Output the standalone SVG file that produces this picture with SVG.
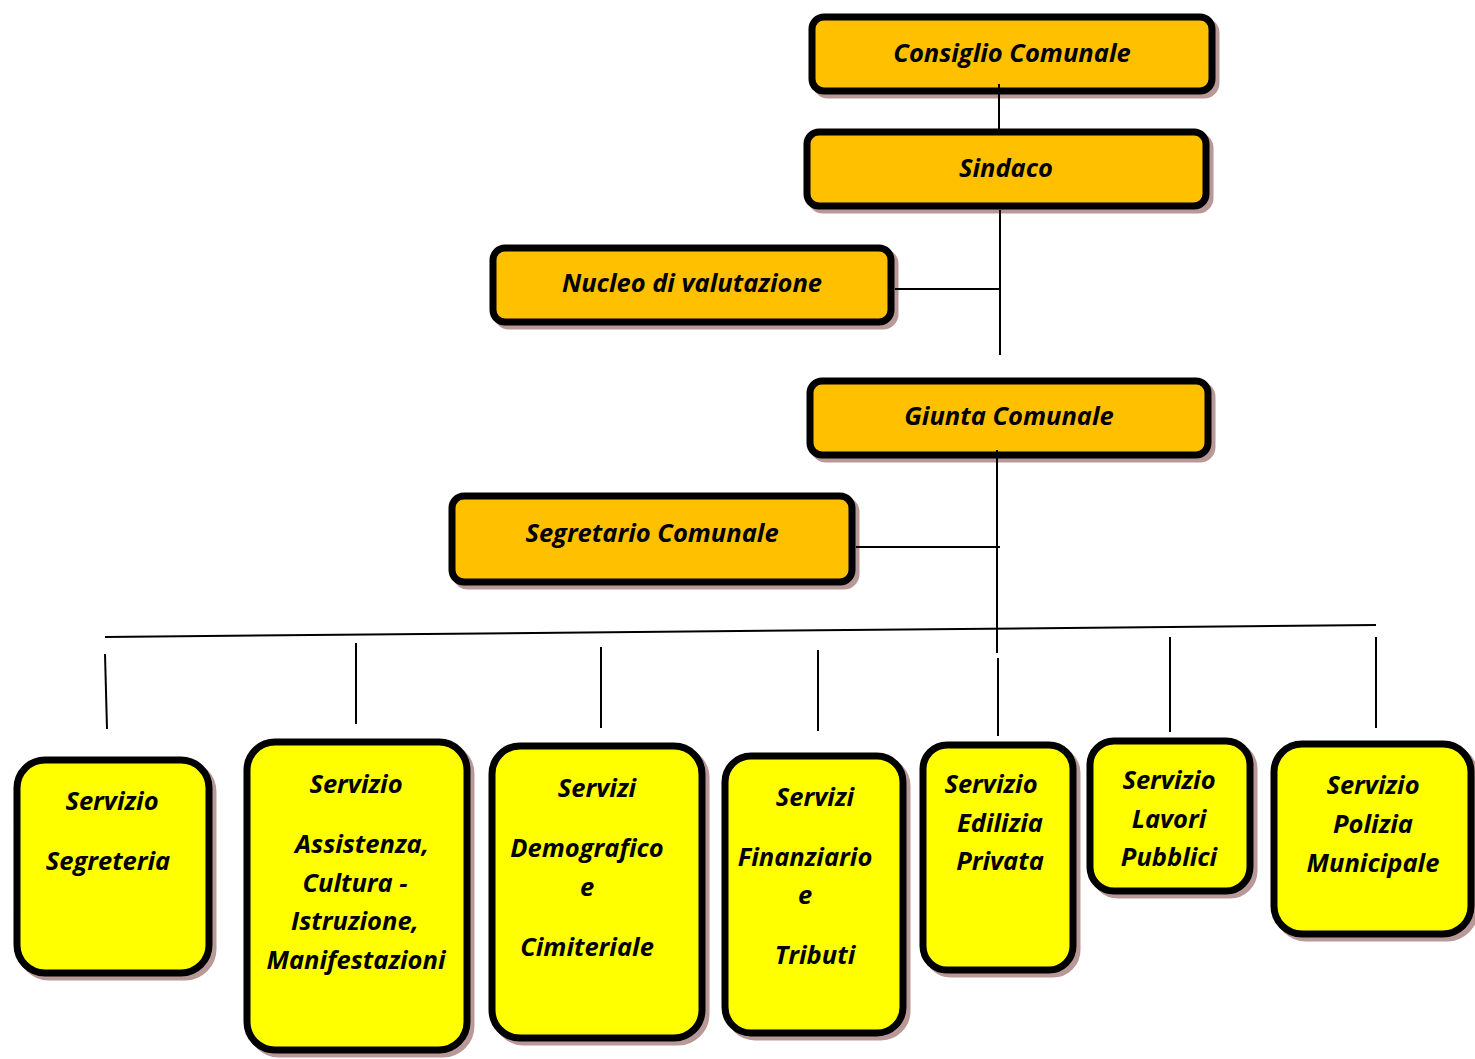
<svg xmlns="http://www.w3.org/2000/svg" width="1475" height="1059" viewBox="0 0 1475 1059">
<style>
.sh{fill:#B99898;stroke:#B99898;stroke-width:7}
.o{fill:#FFC000;stroke:#000;stroke-width:7}
.y{fill:#FFFF00;stroke:#000;stroke-width:7}
text{font-family:"Open Sans","Liberation Sans",sans-serif;font-weight:bold;font-style:italic;font-size:25.5px;fill:#000;text-anchor:middle}
.c line{stroke:#000;stroke-width:2}
</style>
<rect width="1475" height="1059" fill="#fff"/>
<g id="n1"><rect class="sh" x="816" y="21" width="400" height="74" rx="12"/><rect class="o" x="812" y="17" width="400" height="74" rx="12"/><text x="1012" y="62">Consiglio Comunale</text></g>
<g id="n2"><rect class="sh" x="811" y="136" width="399" height="74" rx="12"/><rect class="o" x="807" y="132" width="399" height="74" rx="12"/><text x="1006" y="177">Sindaco</text></g>
<g id="n3"><rect class="sh" x="497" y="252" width="398" height="74" rx="12"/><rect class="o" x="493" y="248" width="398" height="74" rx="12"/><text x="692" y="292">Nucleo di valutazione</text></g>
<g id="n4"><rect class="sh" x="814" y="385" width="398" height="74" rx="12"/><rect class="o" x="810" y="381" width="398" height="74" rx="12"/><text x="1009" y="425">Giunta Comunale</text></g>
<g id="n5"><rect class="sh" x="456" y="500" width="400" height="86" rx="12"/><rect class="o" x="452" y="496" width="400" height="86" rx="12"/><text x="652" y="542">Segretario Comunale</text></g>
<g id="s1"><rect class="sh" x="21" y="764" width="192" height="213" rx="28"/><rect class="y" x="17" y="760" width="192" height="213" rx="28"/><text x="112" y="810">Servizio</text><text x="108" y="870">Segreteria</text></g>
<g id="s2"><rect class="sh" x="251" y="746" width="220" height="308" rx="28"/><rect class="y" x="247" y="742" width="220" height="308" rx="28"/><text x="356" y="793">Servizio</text><text x="362" y="853">Assistenza,</text><text x="355" y="892">Cultura -</text><text x="355" y="930">Istruzione,</text><text x="356" y="969">Manifestazioni</text></g>
<g id="s3"><rect class="sh" x="496" y="750" width="210" height="292" rx="28"/><rect class="y" x="492" y="746" width="210" height="292" rx="28"/><text x="597" y="797">Servizi</text><text x="587" y="857">Demografico</text><text x="587" y="896">e</text><text x="587" y="956">Cimiteriale</text></g>
<g id="s4"><rect class="sh" x="729" y="760" width="178" height="277" rx="26"/><rect class="y" x="725" y="756" width="178" height="277" rx="26"/><text x="815" y="806">Servizi</text><text x="805" y="866">Finanziario</text><text x="805" y="904">e</text><text x="815" y="964">Tributi</text></g>
<g id="s5"><rect class="sh" x="927" y="749" width="150" height="225" rx="24"/><rect class="y" x="923" y="745" width="150" height="225" rx="24"/><text x="991" y="793">Servizio</text><text x="1000" y="832">Edilizia</text><text x="1000" y="870">Privata</text></g>
<g id="s6"><rect class="sh" x="1094" y="745" width="160" height="150" rx="24"/><rect class="y" x="1090" y="741" width="160" height="150" rx="24"/><text x="1169" y="789">Servizio</text><text x="1169" y="828">Lavori</text><text x="1169" y="866">Pubblici</text></g>
<g id="s7"><rect class="sh" x="1278" y="748" width="197" height="190" rx="28"/><rect class="y" x="1274" y="744" width="197" height="190" rx="28"/><text x="1373" y="794">Servizio</text><text x="1373" y="833">Polizia</text><text x="1373" y="872">Municipale</text></g>
<g class="c" id="connectors">
<line x1="999" y1="84" x2="999" y2="129"/>
<line x1="1000" y1="210" x2="1000" y2="355"/>
<line x1="895" y1="289" x2="1000" y2="289"/>
<line x1="997" y1="450" x2="997" y2="653"/>
<line x1="856" y1="547" x2="1000" y2="547"/>
<line x1="105" y1="637" x2="1376" y2="625"/>
<line x1="105" y1="654" x2="107" y2="729"/>
<line x1="356" y1="643" x2="356" y2="724"/>
<line x1="601" y1="647" x2="601" y2="728"/>
<line x1="818" y1="650" x2="818" y2="731"/>
<line x1="998" y1="658" x2="998" y2="736"/>
<line x1="1170" y1="637" x2="1170" y2="732"/>
<line x1="1376" y1="637" x2="1376" y2="728"/>
</g>
</svg>
